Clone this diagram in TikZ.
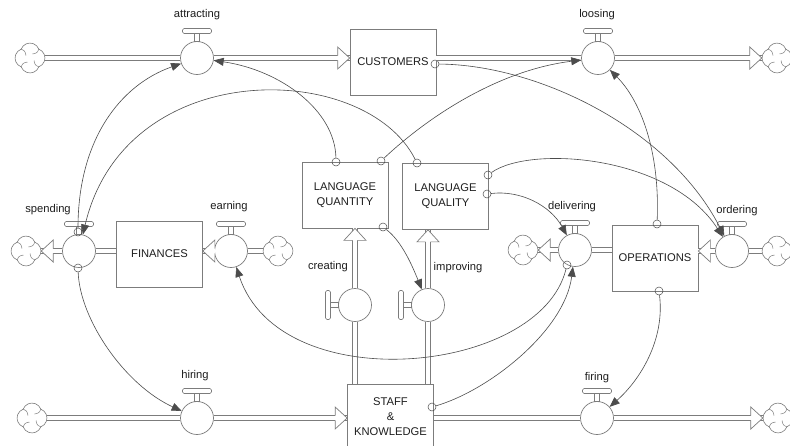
\documentclass[tikz,border=0pt]{standalone}
\usepackage{fontspec}
\setmainfont{Liberation Sans}
\usetikzlibrary{arrows.meta}
\definecolor{edge}{HTML}{7C7C7C}
\definecolor{wire}{HTML}{4C4C4C}
\definecolor{ink}{HTML}{1E1E1E}
\tikzset{
  stock/.style={draw=edge, fill=white, line width=0.7pt, minimum width=86pt,
    minimum height=66pt, inner sep=0pt, align=center, text=ink,
    font=\fontsize{11.2}{15}\selectfont},
  valve/.style={circle, draw=edge, fill=white, line width=0.7pt,
    minimum size=33pt, inner sep=0pt},
  sink/.style={circle, minimum size=30pt, inner sep=0pt},
  tap/.style={circle, draw=wire, line width=0.5pt, minimum size=8pt, inner sep=0pt},
  pipe/.style={draw=edge, line width=0.7pt, double=white, double distance=4pt},
  link/.style={draw=wire, line width=0.6pt, -{Triangle[length=10pt,width=8pt]}},
  lbl/.style={text=ink, inner sep=0pt, font=\fontsize{11.2}{13}\selectfont},
  % source / sink cloud
  pics/puff/.style={code={
    \draw[edge, fill=white, line width=0.6pt]
      (8.84,8.84) arc[start angle=20.7, end angle=159.3, radius=9.45]
      arc[start angle=110.7, end angle=249.3, radius=9.45]
      arc[start angle=200.7, end angle=339.3, radius=9.45]
      arc[start angle=290.7, end angle=429.3, radius=9.45] -- cycle;
    \draw[edge, line width=0.5pt]
      (8.84,8.84) .. controls (5,7) .. (4,2.5)
      (-8.84,8.84) .. controls (-7,5) .. (-2.5,4)
      (-8.84,-8.84) .. controls (-5,-7) .. (-4,-2.5)
      (8.84,-8.84) .. controls (7,-5) .. (2.5,-4);
  }},
  % valve handle above the valve
  pics/handle up/.style={code={
    \draw[edge, fill=white, line width=0.6pt] (-2.5,-24.5) rectangle (2.5,-16.5);
    \draw[edge, fill=white, line width=0.6pt, rounded corners=1.5pt]
      (-14.5,-29.5) rectangle (14.5,-24.5);
  }},
  % valve handle left of the valve
  pics/handle left/.style={code={
    \draw[edge, fill=white, line width=0.6pt] (-24.5,-2.5) rectangle (-16.5,2.5);
    \draw[edge, fill=white, line width=0.6pt, rounded corners=1.5pt]
      (-29.5,-14.5) rectangle (-24.5,14.5);
  }},
  % open arrow head of a flow pipe, tip at the origin, pointing along +x
  pics/hollow head/.style={code={
    \fill[white] (0,0) -- (-12,-11) -- (-12,11) -- cycle;
    \draw[edge, line width=0.7pt, line join=miter]
      (-12,-2.35) -- (-12,-11) -- (0,0) -- (-12,11) -- (-12,2.35);
  }},
}
\begin{document}
\begin{tikzpicture}[x=1pt,y=-1pt]
\useasboundingbox (0,0) rectangle (790,445);
\fill[white] (0,0) rectangle (790,445);

% stocks
\node[stock] (cust)  at (393,62)     {CUSTOMERS};
\node[stock] (fin)   at (159.5,254)  {FINANCES};
\node[stock] (lqn)   at (345,195)    {LANGUAGE\\QUANTITY};
\node[stock] (lql)   at (445.5,196.5){LANGUAGE\\QUALITY};
\node[stock] (ops)   at (655,258)    {OPERATIONS};
\node[stock] (staff) at (390.5,417)  {STAFF\\\&\\KNOWLEDGE};

% flow valves
\node[valve] (vatt) at (197,58)  {};
\node[valve] (vloo) at (598,58)  {};
\node[valve] (vspe) at (79,251)  {};
\node[valve] (vear) at (231,251) {};
\node[valve] (vdel) at (575,250) {};
\node[valve] (vord) at (732,251) {};
\node[valve] (vcre) at (355,305) {};
\node[valve] (vimp) at (428,305) {};
\node[valve] (vhir) at (197,418) {};
\node[valve] (vfir) at (597,418) {};
\foreach \v in {vatt,vloo,vspe,vear,vdel,vord,vhir,vfir}
  \path (\v) pic {handle up};
\foreach \v in {vcre,vimp}
  \path (\v) pic {handle left};

% valve names
\node[lbl] (latt) at (197,15)  {attracting};
\node[lbl] (lloo) at (597,15)  {loosing};
\node[lbl] (lspe) at (48,210)  {spending};
\node[lbl] (lear) at (229,207) {earning};
\node[lbl] (ldel) at (572,207) {delivering};
\node[lbl] (lord) at (737,211) {ordering};
\node[lbl] (lcre) at (328,267) {creating};
\node[lbl] (limp) at (458,268) {improving};
\node[lbl] (lhir) at (195,376) {hiring};
\node[lbl] (lfir) at (597,378) {firing};

% sources and sinks
\node[sink] (cl1)   at (30,58)   {};
\node[sink] (clr1)  at (777,58)  {};
\node[sink] (clsp)  at (26,251)  {};
\node[sink] (clea)  at (278,251) {};
\node[sink] (cldel) at (523,250) {};
\node[sink] (clord) at (777,251) {};
\node[sink] (cl3)   at (32,418)  {};
\node[sink] (clr3)  at (778,418) {};

% link taps
\node[tap] (tsT)  at (78,232)  {};
\node[tap] (tsB)  at (78,268)  {};
\node[tap] (tdB)  at (567,265) {};
\node[tap] (toT)  at (657,224) {};
\node[tap] (toB)  at (659,291) {};
\node[tap] (tcR)  at (435,64)  {};
\node[tap] (tnT)  at (336,162) {};
\node[tap] (tnTR) at (381,161) {};
\node[tap] (tnBR) at (383,227) {};
\node[tap] (tqT)  at (417,163) {};
\node[tap] (tqR1) at (488,175) {};
\node[tap] (tqR2) at (487,194) {};
\node[tap] (tsR)  at (432,407) {};

% flow pipes
\draw[pipe] (cl1) -- (vatt);
\draw[pipe] (vatt) -- (vatt -| cust.west);
\draw[pipe] (vloo -| cust.east) -- (vloo);
\draw[pipe] (vloo) -- (clr1);
\draw[pipe] (vspe -| fin.west) -- (vspe);
\draw[pipe] (vspe) -- (clsp);
\draw[pipe] (clea) -- (vear);
\draw[pipe] (vear) -- (vear -| fin.east);
\draw[pipe] (vdel -| ops.west) -- (vdel);
\draw[pipe] (vdel) -- (cldel);
\draw[pipe] (clord) -- (vord);
\draw[pipe] (vord) -- (vord -| ops.east);
\draw[pipe] (vcre |- staff.north) -- (vcre);
\draw[pipe] (vcre) -- (vcre |- lqn.south);
\draw[pipe] (vimp |- staff.north) -- (vimp);
\draw[pipe] (vimp) -- (vimp |- lql.south);
\draw[pipe] (cl3) -- (vhir);
\draw[pipe] (vhir) -- (vhir -| staff.west);
\draw[pipe] (vfir -| staff.east) -- (vfir);
\draw[pipe] (vfir) -- (clr3);

% flow heads
\path (vatt -| cust.west) pic {hollow head};
\path (clr1.west) pic {hollow head};
\path (clsp.east) pic[rotate=180] {hollow head};
\path (vear -| fin.east) pic[rotate=180] {hollow head};
\path (cldel.east) pic[rotate=180] {hollow head};
\path (vord -| ops.east) pic[rotate=180] {hollow head};
\path (vcre |- lqn.south) pic[rotate=90] {hollow head};
\path (vimp |- lql.south) pic[rotate=90] {hollow head};
\path (vhir -| staff.west) pic {hollow head};
\path (clr3.west) pic {hollow head};

% clouds
\foreach \c in {cl1,clr1,clsp,clea,cldel,clord,cl3,clr3}
  \path (\c) pic {puff};

% information links
\draw[link] (tsT)  .. controls (78,140)  and (120,85)  .. (vatt);
\draw[link] (tqT)  .. controls (365,60)  and (125,55)  .. (vspe);
\draw[link] (tnT)  .. controls (335,110) and (280,70)  .. (vatt);
\draw[link] (tnTR) .. controls (430,115) and (500,70)  .. (vloo);
\draw[link] (tcR)  .. controls (540,65)  and (670,130) .. (vord);
\draw[link] (tqR1) .. controls (530,145) and (670,155) .. (vord);
\draw[link] (toT)  .. controls (660,150) and (640,100) .. (vloo);
\draw[link] (tqR2) .. controls (520,190) and (550,205) .. (vdel);
\draw[link] (tnBR) .. controls (400,240) and (410,260) .. (vimp);
\draw[link] (tdB)  .. controls (540,375) and (280,400) .. (vear);
\draw[link] (tsR)  .. controls (490,390) and (565,330) .. (vdel);
\draw[link] (tsB)  .. controls (80,320)  and (125,385) .. (vhir);
\draw[link] (toB)  .. controls (665,340) and (640,380) .. (vfir);
\end{tikzpicture}
\end{document}
